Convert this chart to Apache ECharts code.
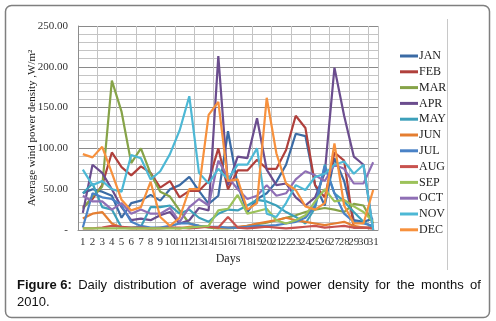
<!DOCTYPE html>
<html>
<head>
<meta charset="utf-8">
<script src="https://cdn.jsdelivr.net/npm/echarts@6/dist/echarts.min.js"></script>
<style>
  html, body { margin: 0; padding: 0; background: #fff; }
  #chart { width: 496px; height: 321px; }
</style>
</head>
<body>
<div id="chart"></div>
<script>
// days of the month
var days = [];
for (var d = 1; d <= 31; d++) days.push(String(d));
// half-day slots, only used to draw the fine vertical grid
var halfSlots = [];
for (var h = 0; h < 62; h++) halfSlots.push(h);

var monthNames = ['JAN', 'FEB', 'MAR', 'APR', 'MAY', 'JUN', 'JUL', 'AUG', 'SEP', 'OCT', 'NOV', 'DEC'];
var monthColors = ['#3B6BA5', '#B0403C', '#86A348', '#6B4D8E', '#3DA0BA', '#E57E31',
                   '#4A82C6', '#C8524E', '#9CC25A', '#8F6FB5', '#4DB8D5', '#F7913D'];

// average wind power density, W/m2
var jan = [45, 50, 47, 42, 15, 33, 36, 43, 36, 50, 55, 65, 48, 32, 42, 121, 55, 22, 38, 45, 59, 80, 118, 115, 55, 30, 88, 60, 12, 10, 14];
var feb = [28, 38, 55, 95, 77, 67, 78, 70, 52, 60, 40, 48, 48, 60, 100, 50, 73, 73, 86, 75, 75, 98, 140, 125, 55, 40, 95, 85, 3, 3, 3];
var mar = [26, 41, 53, 183, 145, 82, 100, 69, 47, 41, 24, 8, 5, 3, 2, 2, 3, 5, 7, 9, 12, 15, 18, 22, 25, 27, 25, 22, 32, 30, 8];
var apr = [21, 80, 70, 50, 28, 12, 14, 12, 18, 22, 8, 12, 27, 24, 213, 55, 90, 88, 137, 74, 55, 57, 40, 30, 40, 70, 199, 140, 90, 80, 0];
var may = [45, 57, 28, 25, 3, 3, 4, 28, 28, 30, 20, 25, 15, 10, 20, 25, 24, 30, 37, 35, 30, 22, 16, 8, 27, 80, 45, 35, 22, 10, 3];
var jun = [14, 20, 22, 8, 3, 2, 2, 2, 3, 3, 2, 4, 5, 4, 3, 3, 4, 5, 8, 10, 12, 15, 12, 10, 8, 6, 8, 10, 5, 3, 2];
var jul = [3, 45, 40, 38, 30, 10, 5, 3, 3, 5, 8, 8, 5, 4, 4, 3, 3, 4, 5, 5, 6, 8, 10, 15, 30, 78, 45, 20, 10, 8, 5];
var aug = [2, 2, 3, 5, 4, 3, 3, 2, 2, 3, 3, 2, 3, 4, 3, 16, 3, 2, 3, 4, 3, 2, 3, 4, 5, 3, 4, 5, 3, 3, 2];
var sep = [2, 2, 2, 2, 2, 2, 2, 2, 2, 2, 2, 3, 4, 5, 24, 26, 43, 20, 23, 26, 12, 8, 12, 18, 35, 50, 35, 37, 29, 22, 10];
var oct = [42, 35, 35, 25, 33, 20, 25, 20, 20, 27, 10, 28, 38, 30, 85, 65, 50, 38, 42, 55, 42, 45, 62, 72, 67, 60, 80, 75, 57, 57, 83];
var nov = [74, 55, 60, 50, 47, 92, 88, 62, 72, 93, 122, 164, 70, 57, 75, 62, 80, 80, 100, 20, 16, 33, 55, 49, 65, 69, 80, 84, 69, 80, 0];
var dec = [93, 89, 102, 70, 37, 24, 28, 59, 16, 5, 15, 50, 50, 141, 157, 60, 62, 25, 33, 162, 94, 57, 49, 29, 25, 33, 106, 30, 8, 8, 49];

var monthData = [jan, feb, mar, apr, may, jun, jul, aug, sep, oct, nov, dec];

var serif = '"Liberation Serif", "Times New Roman", serif';
var sans = '"Liberation Sans", Arial, sans-serif';

// caption line 1 is justified in the figure, so the spaces get a fixed wider width
var captionWords = ['Daily', 'distribution', 'of', 'average', 'wind', 'power', 'density', 'for', 'the', 'months', 'of'];
var caption = '{b|Figure 6:}{s| }' + captionWords.join('{s| }') + '\n2010.';

var chart = echarts.init(document.getElementById('chart'));

chart.setOption({
  animation: false,
  color: monthColors,
  title: {
    left: 12,
    top: 272,
    text: caption,
    textStyle: {
      fontFamily: sans,
      fontSize: 13,
      fontWeight: 'normal',
      color: '#111',
      lineHeight: 17,
      rich: {
        b: { fontFamily: sans, fontSize: 13, fontWeight: 'bold', color: '#111', lineHeight: 17 },
        s: { fontFamily: sans, fontSize: 13, width: 6.3, lineHeight: 17 }
      }
    }
  },
  grid: { left: 78, top: 26, width: 300, height: 204 },
  legend: {
    orient: 'vertical',
    left: 395,
    top: 44,
    itemWidth: 18,
    itemHeight: 3,
    itemGap: 1.8,
    icon: 'rect',
    data: monthNames,
    textStyle: { fontFamily: serif, fontSize: 12, color: '#222', lineHeight: 14, padding: [0, 0, 0, -4] }
  },
  xAxis: [{
    type: 'category',
    data: days,
    name: 'Days',
    nameLocation: 'middle',
    nameGap: 20,
    nameTextStyle: { fontFamily: serif, fontSize: 12, color: '#222' },
    axisLine: { lineStyle: { color: '#8c8c8c' } },
    axisTick: { show: false },
    axisLabel: { interval: 0, fontFamily: serif, fontSize: 11, color: '#333', margin: 7 },
    splitLine: { show: false }
  }, {
    type: 'category',
    data: halfSlots,
    position: 'bottom',
    axisLine: { show: false },
    axisTick: { show: false },
    axisLabel: { show: false },
    splitLine: { show: true, lineStyle: { color: '#c4c4c4', width: 1 } }
  }],
  yAxis: {
    type: 'value',
    min: 0,
    max: 250,
    interval: 50,
    name: 'Average wind power density ,W/m²',
    nameLocation: 'middle',
    nameGap: 40,
    nameMoveOverlap: false,
    nameTextStyle: { fontFamily: serif, fontSize: 11, color: '#222' },
    axisLine: { show: true, lineStyle: { color: '#8c8c8c' } },
    axisTick: { show: false },
    axisLabel: {
      fontFamily: serif, fontSize: 11, color: '#333', margin: 10,
      formatter: function (v) { return v === 0 ? '-' : v.toFixed(2); }
    },
    splitLine: { show: true, lineStyle: { color: '#8a8a8a', width: 1 } },
    minorTick: { show: false, splitNumber: 5 },
    minorSplitLine: { show: true, lineStyle: { color: '#c4c4c4', width: 1 } }
  },
  series: monthNames.map(function (m, i) {
    return {
      name: m,
      type: 'line',
      xAxisIndex: 0,
      data: monthData[i],
      symbol: 'none',
      lineStyle: { width: 2.2 }
    };
  }),
  graphic: [{
    type: 'rect',
    shape: { x: 5.5, y: 5.5, width: 484, height: 312, r: 6 },
    style: { fill: 'none', stroke: '#7f7f7f', lineWidth: 1.5 },
    silent: true
  }, {
    type: 'line',
    shape: { x1: 447.5, y1: 19, x2: 447.5, y2: 270 },
    style: { stroke: '#c8c8c8', lineWidth: 1 },
    silent: true
  }]
});
</script>
</body>
</html>
